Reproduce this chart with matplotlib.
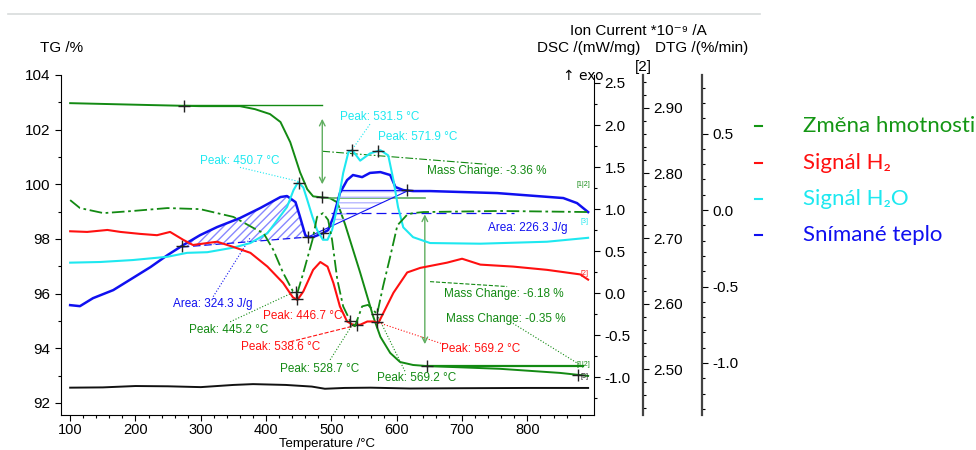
import numpy as np
import matplotlib.pyplot as plt
from matplotlib.lines import Line2D
from matplotlib.ticker import MultipleLocator, FixedLocator, FormatStrFormatter

plt.rcParams['font.family'] = ['Liberation Sans', 'DejaVu Sans']

# TG curve (mass, %)
tg_t = [100, 223, 299, 360, 383, 406, 422, 437, 452, 463, 472, 486, 498, 509,
        521, 533, 544, 564, 575, 590, 605, 625, 647, 758, 850, 893]
tg_v = [102.97, 102.9, 102.86, 102.86, 102.75, 102.57, 102.28, 101.54, 100.44,
        99.82, 99.56, 99.52, 99.49, 99.34, 98.53, 97.61, 96.77, 95.16, 94.42,
        93.83, 93.5, 93.39, 93.35, 93.25, 93.1, 92.99]

# DTG curve (%/min)
dtg_t = [100, 115, 151, 196, 249, 299, 350, 386, 396, 411, 426, 441, 448, 457,
         471, 478, 487, 495, 501, 509, 518, 529, 536, 547, 556, 570, 579, 590,
         601, 616, 625, 641, 758, 893]
dtg_v = [0.065, 0.013, -0.02, -0.006, 0.013, 0.006, -0.045, -0.13, -0.15, -0.26,
         -0.41, -0.53, -0.54, -0.41, -0.195, -0.045, -0.02, -0.065, -0.195,
         -0.455, -0.63, -0.727, -0.76, -0.63, -0.62, -0.68, -0.5, -0.305, -0.10,
         -0.03, -0.02, -0.013, -0.006, -0.013]

# DSC curve (mW/mg)
dsc_t = [100, 115, 135, 166, 196, 223, 249, 273, 299, 325, 360, 391, 422, 432,
         445, 452, 460, 464, 472, 487, 495, 503, 513, 524, 533, 547, 559, 575,
         590, 598, 610, 625, 651, 754, 855, 876, 893]
dsc_v = [-0.143, -0.155, -0.06, 0.036, 0.18, 0.31, 0.452, 0.571, 0.69, 0.786,
         0.893, 1.012, 1.143, 1.155, 1.083, 0.905, 0.69, 0.667, 0.667, 0.714,
         0.75, 0.905, 1.19, 1.345, 1.405, 1.38, 1.43, 1.44, 1.405, 1.262, 1.226,
         1.214, 1.214, 1.19, 1.131, 1.071, 0.964]

# ion current H2O (cyan)
h2o_t = [100, 146, 196, 249, 279, 310, 350, 376, 402, 417, 432, 442, 449, 457,
         463, 471, 478, 487, 494, 501, 509, 518, 526, 532, 544, 559, 575, 587,
         595, 602, 610, 625, 651, 728, 830, 893]
h2o_v = [2.663, 2.664, 2.667, 2.672, 2.678, 2.679, 2.686, 2.693, 2.708, 2.728,
         2.748, 2.774, 2.786, 2.778, 2.759, 2.733, 2.713, 2.698, 2.698, 2.713,
         2.748, 2.8, 2.832, 2.835, 2.819, 2.83, 2.835, 2.827, 2.789, 2.748,
         2.717, 2.702, 2.693, 2.692, 2.695, 2.701]

# ion current H2 (red)
h2_t = [100, 126, 157, 177, 207, 233, 253, 273, 288, 310, 325, 350, 376, 402,
        426, 441, 448, 457, 472, 483, 494, 503, 513, 524, 533, 544, 555, 564,
        572, 595, 616, 636, 677, 700, 728, 778, 830, 881, 893]
h2_v = [2.711, 2.71, 2.713, 2.71, 2.707, 2.705, 2.71, 2.698, 2.69, 2.693, 2.695,
        2.687, 2.678, 2.657, 2.632, 2.61, 2.606, 2.619, 2.652, 2.664, 2.657,
        2.632, 2.596, 2.573, 2.568, 2.568, 2.573, 2.573, 2.571, 2.617, 2.648,
        2.655, 2.663, 2.669, 2.66, 2.657, 2.652, 2.645, 2.637]

# black baseline trace
blk_t = [100, 150, 200, 250, 300, 350, 380, 430, 470, 490, 520, 560, 620, 700, 800, 893]
blk_v = [92.56, 92.57, 92.62, 92.61, 92.58, 92.66, 92.69, 92.66, 92.6, 92.52,
         92.55, 92.56, 92.53, 92.54, 92.55, 92.55]

x_ticks = [100, 200, 300, 400, 500, 600, 700, 800]

green = '#138a13'
red = '#ff1010'
cyan = '#1ee8f0'
blue = '#1010f0'

fig = plt.figure(figsize=(9.76, 4.5), dpi=100)
ax = fig.add_axes([61 / 976, 35 / 450, 533 / 976, 340 / 450])
ax_dsc = ax.twinx()
ax_ion = ax.twinx()
ax_dtg = ax.twinx()

for a in (ax, ax_dsc, ax_ion, ax_dtg):
    a.spines['top'].set_visible(False)
    a.tick_params(direction='out', labelsize=11, length=4, width=0.8)
    a.tick_params(which='minor', direction='out', length=2, width=0.8)
    a.patch.set_visible(False)

ax.set_xlim(86, 902)
ax.set_ylim(91.56, 104)
ax.xaxis.set_major_locator(FixedLocator(x_ticks))
ax.xaxis.set_minor_locator(FixedLocator(np.arange(100, 900, 20)))
ax.tick_params(axis='x', pad=1.5, labelsize=10.5)
ax.yaxis.set_major_locator(MultipleLocator(2))
ax.yaxis.set_minor_locator(MultipleLocator(1))
ax.spines['right'].set_visible(False)

ax_dsc.set_ylim(-1.45, 2.595)
ax_dsc.yaxis.set_major_locator(MultipleLocator(0.5))
ax_dsc.yaxis.set_minor_locator(MultipleLocator(0.25))
ax_dsc.yaxis.set_major_formatter(FormatStrFormatter('%.1f'))
for s in ('left', 'bottom'):
    ax_dsc.spines[s].set_visible(False)

ax_ion.set_ylim(2.43, 2.95)
ax_ion.spines['right'].set_position(('axes', 582 / 533))
ax_ion.yaxis.set_major_locator(MultipleLocator(0.1))
ax_ion.yaxis.set_minor_locator(MultipleLocator(0.02))
ax_ion.yaxis.set_major_formatter(FormatStrFormatter('%.2f'))
ax_dtg.set_ylim(-1.34, 0.883)
ax_dtg.spines['right'].set_position(('axes', 641 / 533))
ax_dtg.yaxis.set_major_locator(MultipleLocator(0.5))
ax_dtg.yaxis.set_minor_locator(MultipleLocator(0.1))
ax_dtg.yaxis.set_major_formatter(FormatStrFormatter('%.1f'))
for a in (ax_ion, ax_dtg):
    for s in ('left', 'bottom'):
        a.spines[s].set_visible(False)
    a.spines['right'].set_color('#444444')
    a.spines['right'].set_linewidth(1.6)

# curves
ax.plot(blk_t, blk_v, color='#111111', lw=1.4)
ax.plot(tg_t, tg_v, color=green, lw=1.4)
ax_dtg.plot(dtg_t, dtg_v, color=green, lw=1.3, ls=(0, (7, 2, 1.5, 2)))
ax_ion.plot(h2o_t, h2o_v, color=cyan, lw=1.5)
ax_ion.plot(h2_t, h2_v, color=red, lw=1.5)
ax_dsc.plot(dsc_t, dsc_v, color=blue, lw=1.8)

# DSC area 1 (hatched)
area1 = np.linspace(271, 464, 80)
base1 = np.interp(area1, [271, 464], [0.548, 0.667])
ax_dsc.plot([271, 464], [0.548, 0.667], color=blue, lw=0.9, ls=(0, (6, 3)))
ax_dsc.fill_between(area1, base1, np.interp(area1, dsc_t, dsc_v), facecolor='none',
                    edgecolor='#8888ff', hatch='////', lw=0)
# DSC area 2
area2 = np.linspace(500, 616, 60)
base2 = np.interp(area2, [464, 616], [0.667, 1.214])
ax_dsc.plot([464, 616], [0.667, 1.214], color=blue, lw=0.8)
ax_dsc.fill_between(area2, base2, np.minimum(np.interp(area2, dsc_t, dsc_v), 1.226),
                    facecolor='none', edgecolor='#b8b8ff', hatch='---', lw=0)
ax_dsc.plot([513, 616], [1.226, 1.226], color=blue, lw=0.9)
ax_dsc.plot([500, 780], [0.952, 0.952], color=blue, lw=0.9, ls=(0, (8, 4)))

# mass change reference lines and arrows
ax.plot([275, 486], [102.9, 102.9], color=green, lw=1.0)
ax.plot([486, 643], [99.5, 99.5], color='#5fae5f', lw=1.2)
ax.plot([647, 885], [93.35, 93.35], color=green, lw=1.6)
ax.annotate('', xy=(486, 99.9), xytext=(486, 102.5),
            arrowprops=dict(arrowstyle='<->', color='#5fae5f', lw=1.0))
ax.annotate('', xy=(643, 94.05), xytext=(643, 99.0),
            arrowprops=dict(arrowstyle='<->', color='#5fae5f', lw=1.0))

# peak / point markers
pk = dict(marker='+', color='#222222', ms=8, mew=1, ls='none')
ax.plot([275, 486, 647, 878], np.interp([275, 486, 647, 878], tg_t, tg_v), **pk)
ax_dtg.plot([445.2, 528.7, 569.2], np.interp([445.2, 528.7, 569.2], dtg_t, dtg_v), **pk)
ax_ion.plot([446.7, 538.6, 569.2], np.interp([446.7, 538.6, 569.2], h2_t, h2_v), **pk)
ax_ion.plot([450.7, 531.5, 571.9], np.interp([450.7, 531.5, 571.9], h2o_t, h2o_v), **pk)
ax_dsc.plot([271, 464, 487, 616], np.interp([271, 464, 487, 616], dsc_t, dsc_v), **pk)

# leaders
def leader(x0, y0, x1, y1, c, ls=':'):
    ax.plot([x0, x1], [y0, y1], color=c, lw=0.8, ls=ls)

leader(360, 100.62, 449, 100.11, cyan)
leader(559, 102.2, 532, 101.28, cyan)
leader(319, 95.89, 376, 98.06, blue)
leader(345, 94.97, 441, 96.04, green)
leader(437, 94.24, 536, 94.83, red, '--')
leader(498, 93.58, 532, 94.86, green)
leader(570, 95.23, 613, 93.14, green)
leader(572, 94.94, 674, 94.13, red)
leader(774, 94.97, 881, 93.39, green)
leader(486, 101.21, 739, 100.73, green, (0, (7, 2, 1.5, 2)))
leader(651, 96.44, 769, 96.26, green, '--')

# annotation texts
notes = [
    (299, 100.84, 'Peak: 450.7 °C', cyan),
    (513, 102.46, 'Peak: 531.5 °C', cyan),
    (572, 101.72, 'Peak: 571.9 °C', cyan),
    (647, 100.48, 'Mass Change: -3.36 %', green),
    (740, 98.42, 'Area: 226.3 J/g', blue),
    (258, 95.63, 'Area: 324.3 J/g', blue),
    (396, 95.19, 'Peak: 446.7 °C', red),
    (282, 94.68, 'Peak: 445.2 °C', green),
    (362, 94.06, 'Peak: 538.6 °C', red),
    (422, 93.25, 'Peak: 528.7 °C', green),
    (570, 92.92, 'Peak: 569.2 °C', green),
    (667, 93.98, 'Peak: 569.2 °C', red),
    (673, 96.0, 'Mass Change: -6.18 %', green),
    (676, 95.08, 'Mass Change: -0.35 %', green),
]
for x, y, s, c in notes:
    ax.text(x, y, s, color=c, fontsize=8.5, va='center', ha='left')

# small curve-end tags
tags = [(885, 99.98, '[1|2]', green), (887, 98.65, '[3]', cyan), (887, 96.75, '[2]', red),
        (885, 93.42, '[1|2]', green), (887, 92.98, '[3]', '#222222')]
for x, y, s, c in tags:
    ax.text(x, y, s, color=c, fontsize=5, va='center', ha='center', zorder=5)

# axis titles
fig.text(327 / 976, 1 - 449.5 / 450, 'Temperature /°C', fontsize=9.5, ha='center', va='bottom')
fig.text(40 / 976, 1 - 48 / 450, 'TG /%', fontsize=11, va='center')
fig.text(707 / 976, 1 - 31 / 450, 'Ion Current *10⁻⁹ /A', fontsize=11, va='center', ha='right')
fig.text(537 / 976, 1 - 48 / 450, 'DSC /(mW/mg)', fontsize=11, va='center')
fig.text(655 / 976, 1 - 48 / 450, 'DTG /(%/min)', fontsize=11, va='center')
fig.text(643 / 976, 1 - 67 / 450, '[2]', fontsize=11, va='center', ha='center')
fig.text(563 / 976, 1 - 76 / 450, '↑ exo', fontsize=10, va='center', ha='left',
         family=['DejaVu Sans'])

# slide decorations
fig.add_artist(Line2D([8 / 976, 760 / 976], [1 - 14 / 450] * 2, color='#d8dcdc', lw=1.2))

# legend on the right
leg_names = ['Změna hmotnosti', 'Signál H₂', 'Signál H₂O', 'Snímané teplo']
leg_colors = ['#149614', '#ff1010', '#1ee8f0', '#1010f0']
leg_rows = [126, 163, 199, 235]
for name, c, yy in zip(leg_names, leg_colors, leg_rows):
    fig.add_artist(Line2D([755 / 976, 762 / 976], [1 - yy / 450] * 2, color=c, lw=1.5))
    fig.text(803 / 976, 1 - yy / 450, name, color=c, fontsize=16, va='center',
             family=['Lato', 'DejaVu Sans'])

fig.savefig('out.png', dpi=100)
